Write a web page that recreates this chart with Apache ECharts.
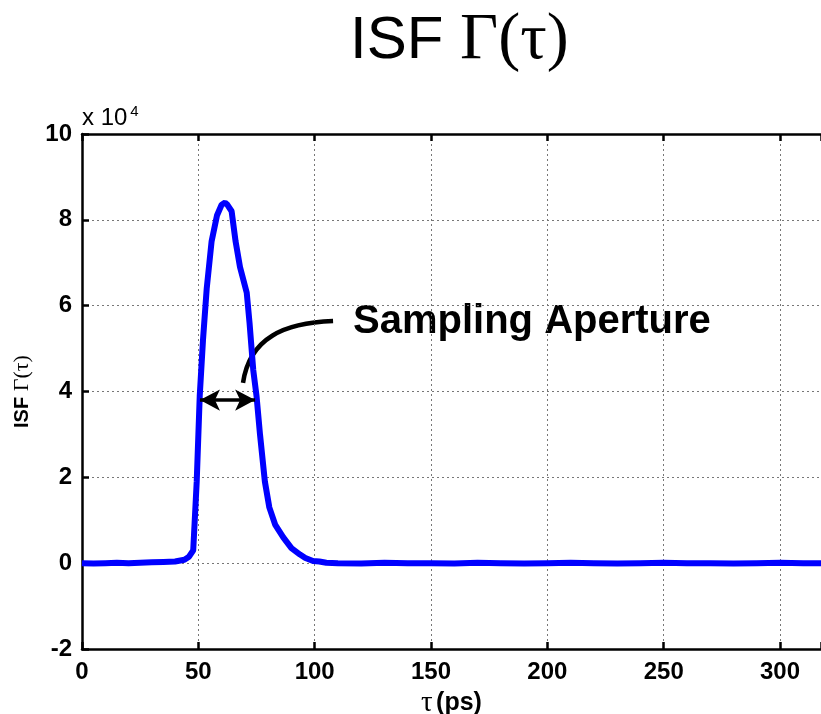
<!DOCTYPE html>
<html>
<head>
<meta charset="UTF-8">
<title>ISF</title>
<script src="https://cdn.jsdelivr.net/npm/echarts@6/dist/echarts.min.js"></script>
<style>
  html, body { margin: 0; padding: 0; background: #fff; }
  #chart { width: 821px; height: 714px; }
</style>
</head>
<body>
<div id="chart"></div>
<script>
// tau in ps, ISF in units of 1e4
const tau = [0, 5, 10, 15, 20, 25, 30, 35, 40, 44, 46, 47.8, 49.3, 50.6, 52, 53.6, 55.7, 58, 60, 61.5,
  62.5, 64.3, 66, 67.9, 70.8, 72, 73.6, 75, 76.5, 78.6, 80.5, 83, 86.5, 90, 93.7, 96, 99.3, 102, 105, 110,
  120, 130, 140, 150, 160, 170, 180, 190, 200, 210, 220, 230, 240, 250, 260, 270, 280, 290, 300, 310, 318];
const isf = [0, -0.01, 0, 0.01, 0, 0.01, 0.02, 0.03, 0.04, 0.08, 0.15, 0.3, 1.9, 3.9, 5.2, 6.4, 7.5, 8.1, 8.35, 8.4,
  8.35, 8.2, 7.5, 6.9, 6.3, 5.6, 4.5, 3.9, 3.0, 1.9, 1.3, 0.9, 0.6, 0.35, 0.2, 0.12, 0.05, 0.04, 0.01, 0,
  -0.01, 0.01, 0, 0, -0.01, 0.01, 0, -0.01, 0, 0.01, 0, -0.01, 0, 0.01, 0, 0, -0.01, 0, 0.01, 0, 0];
const yTicks = { min: -2, max: 10, step: 2 };
const xTicks = { min: 0, max: 317.6, step: 50 };
// annotation: aperture arrow and pointer curve (data coords)
const apertureArrow = [[50.7, 3.8], [74.4, 3.8]];
const pointerCurve = [[69.2, 4.2], [72.0, 5.25], [87.0, 5.6], [107.9, 5.64]];

const chart = echarts.init(document.getElementById('chart'));
const labelFont = { fontFamily: "'Liberation Sans', Arial, sans-serif", fontWeight: 'bold', color: '#000' };
const gridLine = { show: true, lineStyle: { color: '#777', type: [2, 3], width: 1 } };
const axisStroke = { color: '#000', width: 2.5 };

chart.setOption({
  animation: false,
  title: {
    text: '{a|ISF }{b|Γ(τ)}', left: 345, top: 3,
    textStyle: {
      rich: {
        a: { fontFamily: "'Liberation Sans', Arial", fontWeight: 'normal', fontSize: 60, color: '#000' },
        b: { fontFamily: "'Liberation Serif', serif", fontWeight: 'normal', fontSize: 66, color: '#000' }
      }
    }
  },
  grid: { left: 82, top: 134, right: 0, bottom: 65, outerBoundsMode: 'none', containLabel: false },
  xAxis: [{
    type: 'value', min: xTicks.min, max: xTicks.max, interval: xTicks.step,
    name: '{t|τ} {p|(ps)}', nameLocation: 'middle', nameGap: 33,
    nameTextStyle: {
      rich: {
        t: { fontFamily: "'Liberation Serif', serif", fontSize: 29, color: '#000' },
        p: { fontFamily: "'Liberation Sans', Arial", fontWeight: 'bold', fontSize: 25, color: '#000' }
      }
    },
    axisLine: { onZero: false, lineStyle: axisStroke },
    axisTick: { inside: true, length: 7, lineStyle: axisStroke },
    axisLabel: Object.assign({ fontSize: 24, margin: 11,
      formatter: v => (v % 50 === 0 ? String(v) : '') }, labelFont),
    splitLine: gridLine
  }, {
    type: 'value', position: 'top', min: xTicks.min, max: xTicks.max, interval: xTicks.step,
    axisLine: { onZero: false, lineStyle: axisStroke },
    axisTick: { inside: true, length: 7, lineStyle: axisStroke },
    axisLabel: { show: false }, splitLine: { show: false }
  }],
  yAxis: {
    type: 'value', min: yTicks.min, max: yTicks.max, interval: yTicks.step,
    name: '{a|ISF }{b|Γ(τ)}', nameLocation: 'middle', nameGap: 49, nameRotate: 90,
    nameTextStyle: {
      rich: {
        a: { fontFamily: "'Liberation Sans', Arial", fontWeight: 'bold', fontSize: 20, color: '#000' },
        b: { fontFamily: "'Liberation Serif', serif", fontSize: 22, color: '#000' }
      }
    },
    axisLine: { show: true, onZero: false, lineStyle: axisStroke },
    axisTick: { show: true, inside: true, length: 7, lineStyle: axisStroke },
    axisLabel: Object.assign({ fontSize: 24, margin: 10 }, labelFont),
    splitLine: gridLine
  },
  series: [{
    type: 'line', data: tau.map((t, i) => [t, isf[i]]),
    showSymbol: false, lineStyle: { color: '#0000ff', width: 6 },
    markLine: {
      silent: true, symbol: ['arrow', 'arrow'], symbolSize: [16, 20],
      label: { show: false },
      lineStyle: { color: '#000', width: 3.5, type: 'solid' },
      data: [[{ coord: apertureArrow[0] }, { coord: apertureArrow[1] }]]
    }
  }],
  graphic: [{
    id: 'scale', type: 'text', left: 82, top: 104,
    style: {
      text: '{a|x 10}{s|4}',
      rich: {
        a: { fontFamily: "'Liberation Sans', Arial", fontSize: 24, fill: '#000' },
        s: { fontFamily: "'Liberation Sans', Arial", fontSize: 15, fill: '#000', verticalAlign: 'top', padding: [0, 0, 14, 3] }
      }
    }
  }, {
    id: 'aperture', type: 'text', left: 353, top: 302,
    style: { text: 'Sampling Aperture', fontFamily: "'Liberation Sans', Arial", fontWeight: 'bold', fontSize: 40, fill: '#000' }
  }]
});

const px = pointerCurve.map(p => chart.convertToPixel({ gridIndex: 0 }, p));
chart.setOption({
  graphic: [{
    id: 'pointer', type: 'bezierCurve', silent: true,
    shape: { x1: px[0][0], y1: px[0][1], cpx1: px[1][0], cpy1: px[1][1], cpx2: px[2][0], cpy2: px[2][1], x2: px[3][0], y2: px[3][1] },
    style: { stroke: '#000', lineWidth: 4.5, fill: null }
  }]
});
</script>
</body>
</html>
